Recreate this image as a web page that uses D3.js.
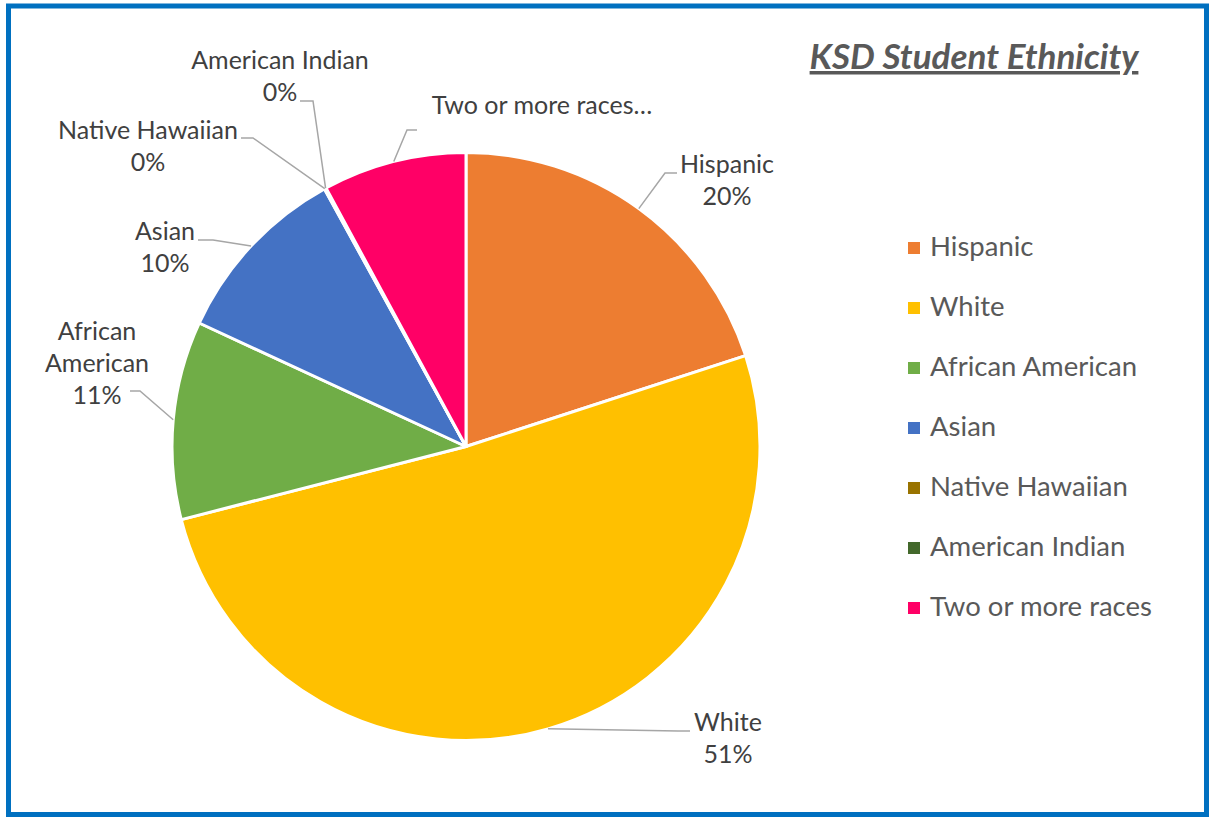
<!DOCTYPE html>
<html>
<head>
<meta charset="utf-8">
<script src="https://cdn.jsdelivr.net/npm/d3@7"></script>
<style>
  html, body { margin: 0; padding: 0; background: #fff; }
  svg { display: block; }
</style>
</head>
<body>
<svg id="chart" width="1209" height="817"></svg>
<script>
const categories = ["Hispanic", "White", "African American", "Asian", "Native Hawaiian", "American Indian", "Two or more races"];
const shares = [20.0, 51.0, 10.9, 10.1, 0.05, 0.05, 7.9];
const colors = ["#ED7D31", "#FFC000", "#70AD47", "#4472C4", "#997300", "#43682B", "#FF0066"];
const labelText = [
  ["Hispanic"], ["White"], ["African", "American"], ["Asian"],
  ["Native Hawaiian"], ["American Indian"], ["Two or more races…"]
];
const showPct = [true, true, true, true, true, true, false];

// label placement: centre x, first baseline y, leader end (x,y), elbow x
const labelLayout = [
  { x: 727, y: 173, ex: 677, ey: 173, bx: 665 },
  { x: 728, y: 731, ex: 690, ey: 731, bx: 678 },
  { x: 97,  y: 340, ex: 130, ey: 391, bx: 140 },
  { x: 165, y: 240, ex: 198, ey: 240, bx: 213 },
  { x: 148, y: 139, ex: 241, ey: 138, bx: 253 },
  { x: 280, y: 69,  ex: 300, ey: 101, bx: 313 },
  { x: 542, y: 114, ex: 417, ey: 130, bx: 407 }
];

const width = 1209, height = 817;
const cx = 466, cy = 446.5, radius = 294;
const font = "Lato, 'Open Sans', sans-serif";

const data = categories.map((c, i) => ({ name: c, value: shares[i], color: colors[i], i }));

const svg = d3.select('#chart')
    .attr('viewBox', [0, 0, width, height]);

svg.append('rect')
    .attr('x', 8.5).attr('y', 6)
    .attr('width', 1198).attr('height', 808.5)
    .attr('fill', '#fff')
    .attr('stroke', '#0070C0')
    .attr('stroke-width', 5);

// title
svg.append('text')
    .attr('x', 974).attr('y', 69)
    .attr('text-anchor', 'middle')
    .attr('fill', '#595959')
    .style('font', `italic bold 35px ${font}`)
    .style('text-decoration', 'underline')
    .text('KSD Student Ethnicity');

const pie = d3.pie().sort(null).value(d => d.value);
const arcs = pie(data);

const arc = d3.arc().innerRadius(0).outerRadius(radius);
const edge = d3.arc().innerRadius(radius).outerRadius(radius);

const g = svg.append('g')
    .attr('transform', `translate(${cx},${cy})`);

g.selectAll('path')
  .data(arcs)
  .join('path')
    .attr('d', arc)
    .attr('fill', d => d.data.color)
    .attr('stroke', '#fff')
    .attr('stroke-width', 3)
    .attr('stroke-linejoin', 'round');

// leader lines
const line = d3.line();
svg.append('g')
  .selectAll('path')
  .data(arcs)
  .join('path')
    .attr('fill', 'none')
    .attr('stroke', '#A6A6A6')
    .attr('stroke-width', 1.5)
    .attr('d', d => {
      const L = labelLayout[d.data.i];
      const [px, py] = edge.centroid(d);
      return line([[cx + px, cy + py], [L.bx, L.ey], [L.ex, L.ey]]);
    });

// data labels
const labels = svg.append('g')
    .style('font', `25px ${font}`)
    .attr('fill', '#404040')
    .attr('text-anchor', 'middle');

arcs.forEach(d => {
  const L = labelLayout[d.data.i];
  const lines = labelText[d.data.i].slice();
  if (showPct[d.data.i]) lines.push(d3.format('.0f')(d.data.value) + '%');
  const t = labels.append('text').attr('x', L.x).attr('y', L.y);
  lines.forEach((s, k) => {
    t.append('tspan').attr('x', L.x).attr('y', L.y + k * 32).text(s);
  });
});

// legend
const legend = svg.append('g')
    .attr('transform', 'translate(908,242)');

const item = legend.selectAll('g')
  .data(data)
  .join('g')
    .attr('transform', (d, i) => `translate(0,${i * 60})`);

item.append('rect')
    .attr('width', 12).attr('height', 12)
    .attr('fill', d => d.color);

item.append('text')
    .attr('x', 22).attr('y', 14)
    .attr('fill', '#595959')
    .style('font', `27.5px ${font}`)
    .text(d => d.name);
</script>
</body>
</html>
